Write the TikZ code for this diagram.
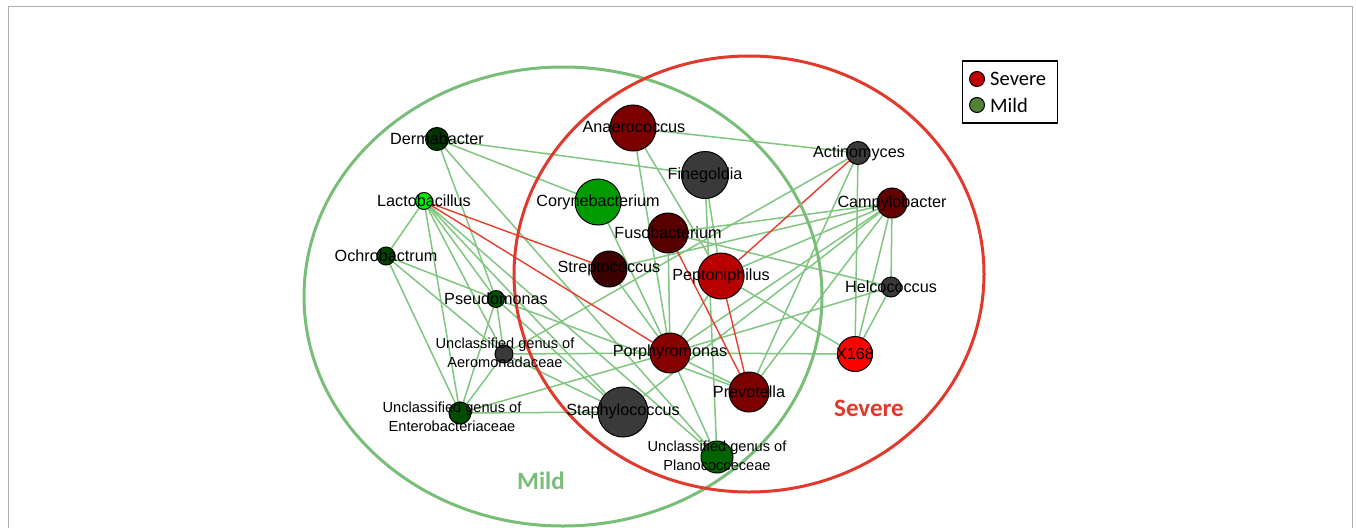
\documentclass[tikz,border=0pt]{standalone}
\usepackage{fontspec}
\setmainfont{Liberation Sans}
\newfontfamily\calibri{Carlito}
\pgfdeclarelayer{bg}
\pgfsetlayers{bg,main}
\definecolor{edgegreen}{RGB}{128,198,128}
\definecolor{edgered}{RGB}{232,60,45}
\definecolor{mildc}{RGB}{120,190,120}
\definecolor{severec}{RGB}{225,58,45}
\definecolor{framec}{RGB}{175,175,175}
\definecolor{c-anaero}{RGB}{123,0,0}
\definecolor{c-gray}{RGB}{58,58,58}
\definecolor{c-coryne}{RGB}{0,155,0}
\definecolor{c-fuso}{RGB}{88,0,0}
\definecolor{c-strep}{RGB}{60,0,0}
\definecolor{c-pepto}{RGB}{185,0,0}
\definecolor{c-porph}{RGB}{135,0,0}
\definecolor{c-prev}{RGB}{125,0,0}
\definecolor{c-plano}{RGB}{0,100,0}
\definecolor{c-campy}{RGB}{100,0,0}
\definecolor{c-x}{RGB}{255,0,0}
\definecolor{c-derm}{RGB}{0,52,0}
\definecolor{c-lacto}{RGB}{0,235,0}
\definecolor{c-ochro}{RGB}{0,70,0}
\definecolor{c-pseudo}{RGB}{0,80,0}
\definecolor{c-entero}{RGB}{0,76,0}
\definecolor{legred}{RGB}{192,0,0}
\definecolor{leggreen}{RGB}{84,130,53}
\begin{document}
\begin{tikzpicture}[x=1pt,y=-1pt,
  bug/.style={circle, draw=black, line width=1pt, inner sep=0pt, minimum size=#1},
  lbl/.style={font=\fontsize{16.2}{18}\selectfont, inner sep=0pt},
  lbltwo/.style={font=\fontsize{14.6}{18.5}\selectfont, align=center, inner sep=0pt},
  ge/.style={draw=edgegreen, line width=1.5pt},
  re/.style={draw=edgered, line width=1.4pt},
  venn/.style={line width=3pt},
  legtxt/.style={font=\calibri\fontsize{20.5}{22}\selectfont, anchor=west, inner sep=0pt}]
\useasboundingbox (0,0) rectangle (1356,527);
\clip (0,0) rectangle (1356,527);

% nodes
\node[bug=23pt, fill=c-derm]   (derm)   at (437,139) {};
\node[bug=17pt, fill=c-lacto]  (lacto)  at (424,201) {};
\node[bug=18pt, fill=c-ochro]  (ochro)  at (386,256) {};
\node[bug=17pt, fill=c-pseudo] (pseudo) at (496,299) {};
\node[bug=18pt, fill=c-gray]   (aero)   at (504,354) {};
\node[bug=22pt, fill=c-entero] (entero) at (460,413) {};
\node[bug=46pt, fill=c-anaero] (anaero) at (633,128) {};
\node[bug=47pt, fill=c-gray]   (fine)   at (705,175) {};
\node[bug=46pt, fill=c-coryne] (coryne) at (598,202) {};
\node[bug=40pt, fill=c-fuso]   (fuso)   at (668,233) {};
\node[bug=36pt, fill=c-strep]  (strep)  at (609,269) {};
\node[bug=46pt, fill=c-pepto]  (pepto)  at (721,276) {};
\node[bug=40pt, fill=c-porph]  (porph)  at (670,353) {};
\node[bug=50pt, fill=c-gray]   (staph)  at (623,412) {};
\node[bug=40pt, fill=c-prev]   (prev)   at (749,392) {};
\node[bug=32pt, fill=c-plano]  (plano)  at (717,457) {};
\node[bug=23pt, fill=c-gray]   (actino) at (858,153) {};
\node[bug=30pt, fill=c-campy]  (campy)  at (892,203) {};
\node[bug=20pt, fill=c-gray]   (helco)  at (891,287) {};
\node[bug=35pt, fill=c-x]      (x168)   at (855,354) {};

\begin{pgfonlayer}{bg}
\fill[white] (0,0) rectangle (1356,527);
\draw[framec, line width=1.2pt] (8.5,540) -- (8.5,6.5) -- (1352.5,6.5) -- (1352.5,540);
% green edges
\draw[ge] (derm) -- (fine);
\draw[ge] (derm) -- (coryne);
\draw[ge] (derm) -- (pseudo);
\draw[ge] (derm) -- (plano);
\draw[ge] (lacto) -- (ochro);
\draw[ge] (lacto) -- (pseudo);
\draw[ge] (lacto) -- (aero);
\draw[ge] (lacto) -- (entero);
\draw[ge] (lacto) -- (staph);
\draw[ge] (lacto) -- (plano);
\draw[ge] (ochro) -- (pseudo);
\draw[ge] (ochro) -- (aero);
\draw[ge] (ochro) -- (entero);
\draw[ge] (pseudo) -- (aero);
\draw[ge] (pseudo) -- (entero);
\draw[ge] (pseudo) -- (staph);
\draw[ge] (pseudo) -- (prev);
\draw[ge] (aero) -- (entero);
\draw[ge] (aero) -- (porph);
\draw[ge] (aero) -- (staph);
\draw[ge] (aero) -- (actino);
\draw[ge] (entero) -- (staph);
\draw[ge] (entero) -- (porph);
\draw[ge] (anaero) -- (actino);
\draw[ge] (anaero) -- (porph);
\draw[ge] (anaero) -- (pepto);
\draw[ge] (fine) -- (pepto);
\draw[ge] (fine) -- (plano);
\draw[ge] (coryne) -- (porph);
\draw[ge] (fuso) -- (campy);
\draw[ge] (fuso) -- (helco);
\draw[ge] (fuso) -- (porph);
\draw[ge] (strep) -- (porph);
\draw[ge] (strep) -- (campy);
\draw[ge] (pepto) -- (porph);
\draw[ge] (pepto) -- (x168);
\draw[ge] (pepto) -- (campy);
\draw[ge] (porph) -- (x168);
\draw[ge] (porph) -- (prev);
\draw[ge] (porph) -- (plano);
\draw[ge] (porph) -- (campy);
\draw[ge] (porph) -- (helco);
\draw[ge] (staph) -- (campy);
\draw[ge] (actino) -- (x168);
\draw[ge] (actino) -- (prev);
\draw[ge] (campy) -- (helco);
\draw[ge] (campy) -- (x168);
\draw[ge] (campy) -- (prev);
\draw[ge] (helco) -- (x168);
% red edges
\draw[re] (lacto) -- (strep);
\draw[re] (lacto) -- (porph);
\draw[re] (actino) -- (pepto);
\draw[re] (fuso) -- (prev);
\draw[re] (pepto) -- (prev);
% venn outlines
\draw[venn, draw=mildc] (563,296.5) ellipse [x radius=259pt, y radius=229.5pt];
\draw[venn, draw=severec] (749,274) ellipse [x radius=235pt, y radius=218pt];
\end{pgfonlayer}

% labels
\node[lbl] (derm-l)   at (437,139) {Dermabacter};
\node[lbl] (lacto-l)  at (424,201) {Lactobacillus};
\node[lbl] (ochro-l)  at (386,256) {Ochrobactrum};
\node[lbl] (pseudo-l) at (496,299) {Pseudomonas};
\node[lbltwo] (aero-l)   at (505,353) {Unclassified genus of\\Aeromonadaceae};
\node[lbltwo] (entero-l) at (452,417) {Unclassified genus of\\Enterobacteriaceae};
\node[lbl] (anaero-l) at (634,127) {Anaerococcus};
\node[lbl] (fine-l)   at (705,175) {Finegoldia};
\node[lbl] (coryne-l) at (598,202) {Corynebacterium};
\node[lbl] (fuso-l)   at (668,233) {Fusobacterium};
\node[lbl] (strep-l)  at (609,269) {Streptococcus};
\node[lbl] (pepto-l)  at (721,276) {Peptoniphilus};
\node[lbl] (porph-l)  at (670,352) {Porphyromonas};
\node[lbl] (staph-l)  at (623,411) {Staphylococcus};
\node[lbl] (prev-l)   at (749,392) {Prevotella};
\node[lbltwo] (plano-l)  at (717,456) {Unclassified genus of\\Planococceceae};
\node[lbl] (actino-l) at (859,153) {Actinomyces};
\node[lbl] (campy-l)  at (892,203) {Campylobacter};
\node[lbl] (helco-l)  at (891,287) {Helcococcus};
\node[lbl] (x168-l)   at (855,354) {X168};

% set labels
\node[font=\calibri\bfseries\fontsize{25}{28}\selectfont, text=mildc, inner sep=0pt] (mild-t) at (541,481) {Mild};
\node[font=\calibri\bfseries\fontsize{25}{28}\selectfont, text=severec, inner sep=0pt] (sev-t) at (869,408) {Severe};

% legend
\node[draw=black, line width=1.3pt, minimum width=95pt, minimum height=62pt, inner sep=0pt] (legbox) at (1010,92) {};
\node[bug=15pt, fill=legred]   (leg-r) at (977,79) {};
\node[bug=15pt, fill=leggreen] (leg-g) at (977,105) {};
\node[legtxt] (leg-rt) at (990,79) {Severe};
\node[legtxt] (leg-gt) at (990,105) {Mild};
\end{tikzpicture}
\end{document}
